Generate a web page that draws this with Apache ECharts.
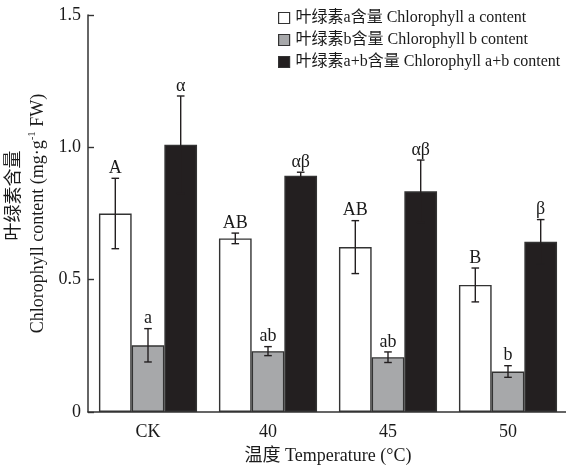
<!DOCTYPE html>
<html>
<head>
<meta charset="utf-8">
<script src="https://cdn.jsdelivr.net/npm/echarts@6/dist/echarts.min.js"></script>
<style>
  html, body { margin: 0; padding: 0; background: #fff; }
  #chart { width: 566px; height: 466px; }
</style>
</head>
<body>
<div id="chart"></div>
<script>
// Temperature treatments
const categories = ['CK', '40', '45', '50'];

// Chlorophyll content (mg·g-1 FW): means, standard errors and significance letters
const chlA = [0.75, 0.656, 0.623, 0.48];
const chlAErr = [0.133, 0.02, 0.10, 0.064];
const chlALetters = ['A', 'AB', 'AB', 'B'];

const chlB = [0.252, 0.23, 0.207, 0.153];
const chlBErr = [0.063, 0.017, 0.02, 0.022];
const chlBLetters = ['a', 'ab', 'ab', 'b'];

const chlAB = [1.01, 0.893, 0.834, 0.643];
const chlABErr = [0.184, 0.013, 0.118, 0.084];
const chlABLetters = ['α', 'αβ', 'αβ', 'β'];

const seriesNames = [
  '叶绿素a含量 Chlorophyll a content',
  '叶绿素b含量 Chlorophyll b content',
  '叶绿素a+b含量 Chlorophyll a+b content'
];

const yTicks = [0, 0.5, 1.0, 1.5];

const FONT = '"Liberation Serif", "Times New Roman", "Noto Sans CJK SC", serif';
const INK = '#231f20';
const TEXT = '#1a1a1a';
const BAR_W = 32.7;

const fills = ['#ffffff', '#a7a8aa', '#231f20'];
const means = [chlA, chlB, chlAB];
const errs = [chlAErr, chlBErr, chlABErr];
const letters = [chlALetters, chlBLetters, chlABLetters];

const chart = echarts.init(document.getElementById('chart'), null, { renderer: 'canvas' });

const barSeries = means.map((vals, i) => ({
  name: seriesNames[i],
  type: 'bar',
  data: vals,
  barWidth: BAR_W,
  barGap: '0%',
  itemStyle: { color: fills[i], borderColor: '#333333', borderWidth: 1.4 },
  emphasis: { disabled: true },
  z: 2
}));

// Error bars with their significance letters, one custom series per bar series
const errSeries = means.map((vals, i) => ({
  type: 'custom',
  name: 'err' + i,
  z: 5,
  data: vals.map((v, k) => [k, v, errs[i][k]]),
  encode: { x: 0, y: 1 },
  renderItem: function (params, api) {
    const k = api.value(0);
    const v = api.value(1);
    const e = api.value(2);
    const lab = letters[i][k];
    const offset = (i - 1) * BAR_W;
    const top = api.coord([k, v + e]);
    const bot = api.coord([k, v - e]);
    const x = top[0] + offset;
    const cap = 3.8;
    const lineStyle = { stroke: INK, lineWidth: 1.4 };
    return {
      type: 'group',
      children: [
        { type: 'line', shape: { x1: x, y1: top[1], x2: x, y2: bot[1] }, style: lineStyle },
        { type: 'line', shape: { x1: x - cap, y1: top[1], x2: x + cap, y2: top[1] }, style: lineStyle },
        { type: 'line', shape: { x1: x - cap, y1: bot[1], x2: x + cap, y2: bot[1] }, style: lineStyle },
        {
          type: 'text',
          style: {
            text: lab, x: x, y: top[1] - 1,
            textAlign: 'center', textVerticalAlign: 'bottom',
            font: '18px ' + FONT, fill: TEXT
          }
        }
      ]
    };
  }
}));

chart.setOption({
  animation: false,
  backgroundColor: '#ffffff',
  textStyle: { fontFamily: FONT },
  grid: { left: 88, width: 480, top: 15, bottom: 54, containLabel: false, outerBoundsMode: 'none' },
  legend: {
    data: seriesNames,
    orient: 'vertical',
    left: 273,
    top: 5,
    itemWidth: 11,
    itemHeight: 11,
    itemGap: 6,
    icon: 'rect',
    itemStyle: { borderColor: '#333333', borderWidth: 1.2 },
    textStyle: { fontFamily: FONT, fontSize: 16, color: TEXT, padding: [0, 0, 0, 1] },
    selectedMode: false
  },
  xAxis: {
    type: 'category',
    data: categories,
    name: '温度 Temperature (°C)',
    nameLocation: 'middle',
    nameGap: 35,
    nameTextStyle: { fontFamily: FONT, fontSize: 18, color: TEXT },
    axisLine: { lineStyle: { color: '#333333', width: 1.5 } },
    axisTick: { inside: true, length: 7, alignWithLabel: false, lineStyle: { color: '#333333', width: 1.4 } },
    axisLabel: { fontFamily: FONT, fontSize: 18, color: TEXT, margin: 11 }
  },
  yAxis: {
    type: 'value',
    min: yTicks[0],
    max: yTicks[yTicks.length - 1],
    interval: 0.5,
    name: '{c|叶绿素含量}\n{t|Chlorophyll content (mg·g}{s|-1}{t| FW)}',
    nameLocation: 'middle',
    nameRotate: 90,
    nameGap: 33,
    nameTextStyle: {
      color: TEXT,
      rich: {
        c: { fontFamily: FONT, fontSize: 18, lineHeight: 24, color: TEXT, padding: [0, 0, 0, 36] },
        t: { fontFamily: FONT, fontSize: 18, lineHeight: 24, color: TEXT },
        s: { fontFamily: FONT, fontSize: 11, lineHeight: 24, verticalAlign: 'top', padding: [0, 0, 8, 0], color: TEXT }
      }
    },
    axisLine: { show: true, lineStyle: { color: '#333333', width: 1.5 } },
    axisTick: { show: true, inside: true, length: 6, lineStyle: { color: '#333333', width: 1.4 } },
    splitLine: { show: false },
    axisLabel: {
      fontFamily: FONT, fontSize: 18, color: TEXT, margin: 7,
      formatter: v => (v === 0 ? '0' : v.toFixed(1))
    }
  },
  series: [...barSeries, ...errSeries]
});
</script>
</body>
</html>
